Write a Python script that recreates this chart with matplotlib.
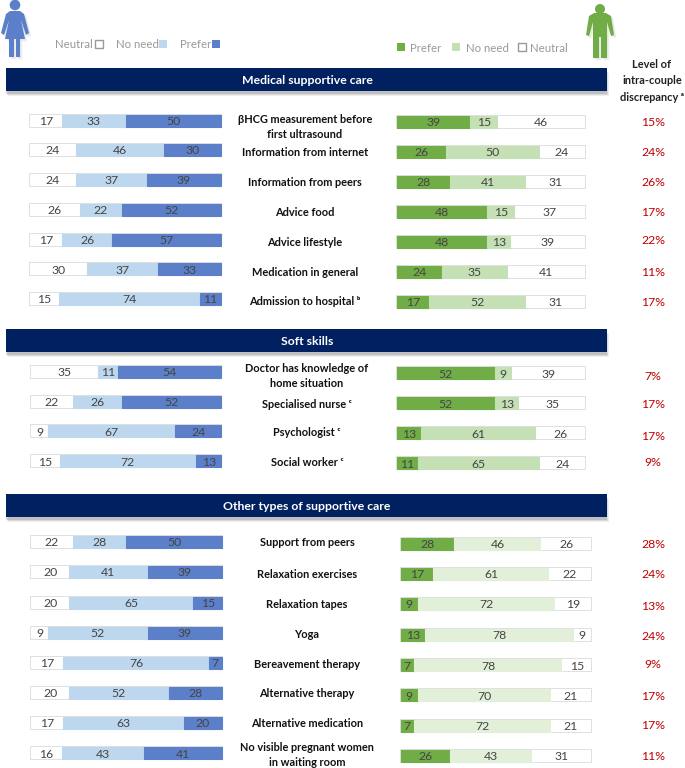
import matplotlib
matplotlib.use("Agg")
import matplotlib.pyplot as plt
from matplotlib.patches import Rectangle, Circle, Polygon

W, H = 685, 768
plt.rcParams['font.family'] = ['Lato', 'DejaVu Sans']

medical_labels = ["βHCG measurement before\nfirst ultrasound", "Information from internet", "Information from peers",
                  "Advice food", "Advice lifestyle", "Medication in general", "Admission to hospital ᵇ"]
medical_f_neutral = [17, 24, 24, 26, 17, 30, 15]
medical_f_noneed = [33, 46, 37, 22, 26, 37, 74]
medical_f_prefer = [50, 30, 39, 52, 57, 33, 11]
medical_m_prefer = [39, 26, 28, 48, 48, 24, 17]
medical_m_noneed = [15, 50, 41, 15, 13, 35, 52]
medical_m_neutral = [46, 24, 31, 37, 39, 41, 31]
medical_disc = ["15%", "24%", "26%", "17%", "22%", "11%", "17%"]

soft_labels = ["Doctor has knowledge of\nhome situation", "Specialised nurse ᶜ", "Psychologist ᶜ", "Social worker ᶜ"]
soft_f_neutral = [35, 22, 9, 15]
soft_f_noneed = [11, 26, 67, 72]
soft_f_prefer = [54, 52, 24, 13]
soft_m_prefer = [52, 52, 13, 11]
soft_m_noneed = [9, 13, 61, 65]
soft_m_neutral = [39, 35, 26, 24]
soft_disc = ["7%", "17%", "17%", "9%"]

other_labels = ["Support from peers", "Relaxation exercises", "Relaxation tapes", "Yoga", "Bereavement therapy",
                "Alternative therapy", "Alternative medication", "No visible pregnant women\nin waiting room"]
other_f_neutral = [22, 20, 20, 9, 17, 20, 17, 16]
other_f_noneed = [28, 41, 65, 52, 76, 52, 63, 43]
other_f_prefer = [50, 39, 15, 39, 7, 28, 20, 41]
other_m_prefer = [28, 17, 9, 13, 7, 9, 7, 26]
other_m_noneed = [46, 61, 72, 78, 78, 70, 72, 43]
other_m_neutral = [26, 22, 19, 9, 15, 21, 21, 31]
other_disc = ["28%", "24%", "13%", "24%", "9%", "17%", "17%", "11%"]

BLUE, LBLUE = "#5B80C9", "#BDD7EE"
GREEN, LGREEN, VLGREEN = "#70AD47", "#C5E0B4", "#E2F0D9"
NAVY = "#002060"
EDGE = "#DDDDDD"
NUM = "#444444"
GREY = "#999999"
RED = "#C00000"

fig = plt.figure(figsize=(W / 100, H / 100), dpi=100, facecolor="white")
bg = fig.add_axes([0, 0, 1, 1], zorder=0)
bg.set_xlim(0, W)
bg.set_ylim(H, 0)
bg.axis("off")


def stacked(x0, x1, rows, series, colors, bar_h=12):
    """100 % stacked bars in their own axes; x is percent, y is the row position."""
    ax = fig.add_axes([x0 / W, 0, (x1 - x0) / W, 1], zorder=2)
    ax.set_xlim(0, 100)
    ax.set_ylim(H, 0)
    ax.axis("off")
    ax.patch.set_alpha(0)
    total = [sum(v) for v in zip(*series)]
    for i, y in enumerate(rows):
        ax.barh(y, 100, height=bar_h, facecolor="white", edgecolor=EDGE, linewidth=1.3,
                zorder=1, clip_on=False)
        left = 0
        for vals, col in zip(series, colors):
            width = vals[i] * 100 / total[i]
            ec = col if col != "white" else "none"
            ax.barh(y, width, left=left, height=bar_h, color=col, edgecolor=ec, linewidth=.8,
                    zorder=2, clip_on=False)
            ax.text(left + width / 2, y, str(vals[i]), ha="center", va="center_baseline",
                    fontsize=8.8, color=NUM, zorder=3)
            left += width


def banner(y0, y1, title):
    for off, a in ((4.5, .12), (3.5, .18), (2.5, .28)):
        bg.add_patch(Rectangle((6 + off - 2, y0 + off), 601, y1 - y0, color="#808080", lw=0, alpha=a, zorder=1))
    bg.add_patch(Rectangle((6, y0), 601, y1 - y0, color=NAVY, lw=0, zorder=2))
    bg.text(307, (y0 + y1) / 2, title, color="white", weight="bold", fontsize=8.8,
            ha="center", va="center_baseline", zorder=3)


def labels(x, rows, names):
    for y, n in zip(rows, names):
        bg.text(x, y, n, ha="center", va="center", fontsize=7.9, weight="bold", color="#111111", linespacing=1.45)


def disc(rows, vals):
    for y, v in zip(rows, vals):
        bg.text(653, y, v, ha="center", va="center", fontsize=8.8, color=RED)


# Medical
med_l = [120.5, 150, 179.5, 209.5, 239.5, 269, 298.5]
med_r = [122, 152, 182, 212, 242, 272, 301.5]
stacked(30, 221, med_l, [medical_f_neutral, medical_f_noneed, medical_f_prefer], ["white", LBLUE, BLUE])
stacked(397, 584.5, med_r, [medical_m_prefer, medical_m_noneed, medical_m_neutral], [GREEN, LGREEN, "white"])
labels(305, [127, 153, 182.5, 212.5, 242, 272, 301.5], medical_labels)
disc([122, 152, 182.5, 212, 241, 272.5, 302], medical_disc)

# Soft skills
soft_l = [372, 401.5, 431, 461]
soft_r = [373, 403, 433, 463]
stacked(31, 221, soft_l, [soft_f_neutral, soft_f_noneed, soft_f_prefer], ["white", LBLUE, BLUE])
stacked(397, 585, soft_r, [soft_m_prefer, soft_m_noneed, soft_m_neutral], [GREEN, LGREEN, "white"])
labels(307, [376, 404.5, 433, 462], soft_labels)
disc([376, 404, 436.5, 463], soft_disc)

# Other
oth_l = [542, 572, 602.5, 632.5, 662.5, 692.5, 722.5, 753]
oth_r = [543.5, 573.5, 604, 634.5, 665, 695, 725.5, 756]
stacked(31, 222, oth_l, [other_f_neutral, other_f_noneed, other_f_prefer], ["white", LBLUE, BLUE])
stacked(400.5, 591, oth_r, [other_m_prefer, other_m_noneed, other_m_neutral], [GREEN, VLGREEN, "white"])
labels(307, [542, 574.5, 604.5, 634, 664, 693.5, 723.5, 755], other_labels)
disc([545, 575, 606, 636.5, 664, 696, 725.5, 756], other_disc)

banner(68, 91, "Medical supportive care")
banner(329, 352, "Soft skills")
banner(494, 517, "Other types of supportive care")


# Legends
def legend_item(xt, y, text, xb, col):
    bg.text(xt, y, text, fontsize=8.2, color=GREY, ha="left", va="center_baseline")
    bg.add_patch(Rectangle((xb, y - 4), 8, 8, facecolor=col,
                           edgecolor=GREY if col == "white" else "none", lw=1))


legend_item(55, 44, "Neutral", 95, "white")
legend_item(116, 44, "No need", 159.5, LBLUE)
legend_item(180, 44, "Prefer", 212.5, BLUE)
legend_item(410, 47, "Prefer", 397.5, GREEN)
legend_item(466, 47, "No need", 452.5, LGREEN)
legend_item(530, 47, "Neutral", 518.5, "white")

# Right-hand header
bg.text(652, 81, "Level of\nintra-couple\ndiscrepancy ᵃ", ha="center", va="center", fontsize=7.9,
        weight="bold", color="#222222", linespacing=1.6)


# Figures
def shape(pts, head, r, dx, col, shadow=True):
    if shadow:
        for off, a in ((2.5, .08), (1.5, .12)):
            bg.add_patch(Polygon([(x + dx + off, y + off) for x, y in pts], color="#808080", alpha=a, lw=0, zorder=2))
    bg.add_patch(Polygon([(x + dx, y) for x, y in pts], color=col, lw=0, zorder=3))
    bg.add_patch(Circle((head[0] + dx, head[1]), r, color=col, lw=0, zorder=3))


woman_pts = [(10, 11), (20, 11), (24, 14), (29, 33), (26, 35), (21, 20), (25, 39), (20, 39), (20, 57), (16, 57),
             (16, 39), (14, 39), (14, 57), (9, 57), (9, 39), (5, 39), (9, 20), (4, 35), (1, 33), (6, 14)]
man_pts = [(7, 13), (19, 13), (24, 16), (27, 35), (24, 36), (20, 22), (20, 58), (14, 58), (14, 37), (12, 37),
           (12, 58), (6, 58), (6, 22), (2, 36), (-1, 35), (2, 16)]
shape(woman_pts, (15, 5), 5.3, 0, BLUE)
shape(man_pts, (13, 9), 5, 587, GREEN)

fig.savefig("out.png", dpi=100, facecolor="white")
